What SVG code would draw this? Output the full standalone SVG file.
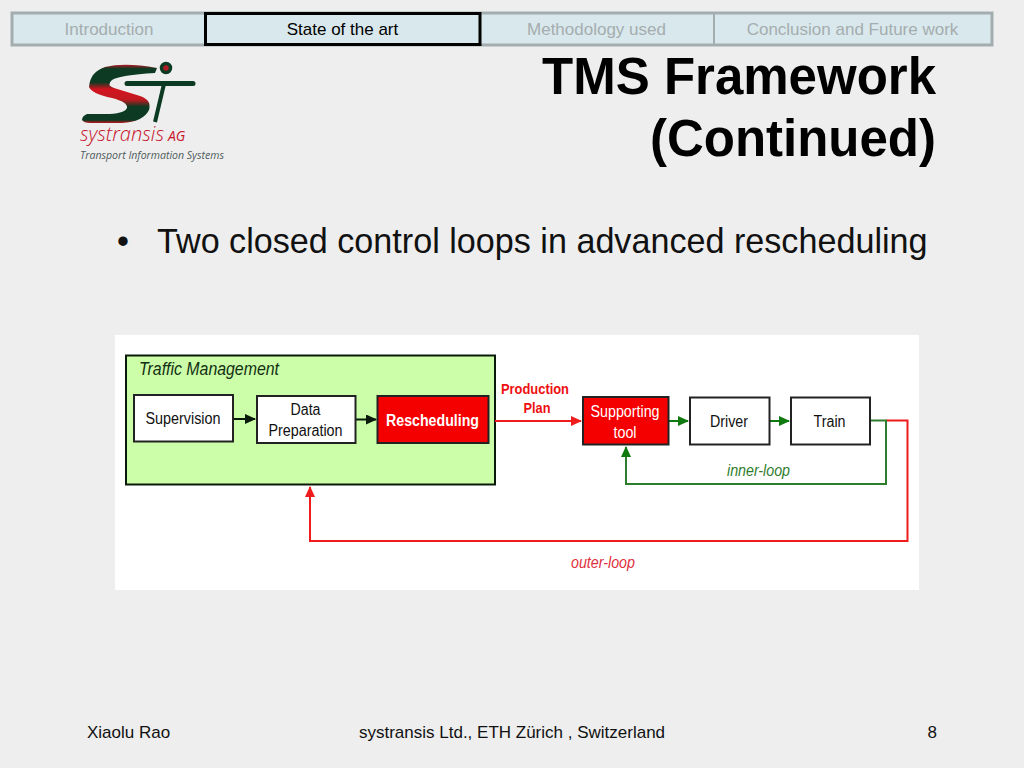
<svg xmlns="http://www.w3.org/2000/svg" width="1024" height="768" viewBox="0 0 1024 768">
<style>
text{font-family:"Liberation Sans",Arial,sans-serif}
.tab{fill:#d9e8ec;stroke:#a3adaf;stroke-width:3}
.tabt{font-size:17px;text-anchor:middle;fill:#a5adaf}
.box{fill:#fff;stroke:#222;stroke-width:2}
.red{fill:#f50000;stroke:#222;stroke-width:2}
.lbl{font-size:16px;text-anchor:middle;fill:#111}
.k{stroke:#0a1a0a;stroke-width:2;fill:none}
.r{stroke:#ee1c1c;stroke-width:2;fill:none}
.g{stroke:#2e7d2e;stroke-width:2;fill:none}
.foot{font-size:17px;fill:#111}
</style>
<defs>
<marker id="ak" markerWidth="11" markerHeight="10" refX="10" refY="5" orient="auto" markerUnits="userSpaceOnUse"><path d="M0 0L11 5L0 10Z" fill="#0a1a0a"/></marker>
<marker id="ar" markerWidth="11" markerHeight="10" refX="10" refY="5" orient="auto" markerUnits="userSpaceOnUse"><path d="M0 0L11 5L0 10Z" fill="#ee1c1c"/></marker>
<marker id="ag" markerWidth="11" markerHeight="10" refX="10" refY="5" orient="auto" markerUnits="userSpaceOnUse"><path d="M0 0L11 5L0 10Z" fill="#0f7a0f"/></marker>
<linearGradient id="s" x1="0" y1="0" x2="0" y2="1"><stop offset="0" stop-color="#b01a24"/><stop offset=".07" stop-color="#0c3a22"/><stop offset=".3" stop-color="#0c3a22"/><stop offset=".42" stop-color="#d3141f"/><stop offset=".6" stop-color="#c01a20"/><stop offset=".72" stop-color="#0c3a22"/><stop offset=".95" stop-color="#0c3a22"/><stop offset="1" stop-color="#c0141f"/></linearGradient>
</defs>
<rect width="1024" height="768" fill="#eee"/>
<g id="nav">
<rect class="tab" x="12" y="13" width="980" height="32"/>
<line x1="714" y1="13" x2="714" y2="45" stroke="#a3adaf" stroke-width="2"/>
<text class="tabt" x="109" y="35">Introduction</text>
<rect x="205.500" y="13.500" width="274.500" height="31" fill="#d9e8ec" stroke="#000" stroke-width="3"/>
<text class="tabt" x="342.500" y="35" style="fill:#000">State of the art</text>
<text class="tabt" x="596.500" y="35">Methodology used</text>
<text class="tabt" x="852.500" y="35">Conclusion and Future work</text>
</g>
<g id="logo">
<path d="M157,68Q125,62 105,67Q90,72 89,87Q92,94 112,98Q128,102 127,108Q124,114 105,114L87,114Q82,116 82,120Q84,123 90,123L122,123Q143,122 149,110Q152,100 140,96L114,88Q106,85 112,80Q120,75 155,73Z" fill="url(#s)"/>
<circle cx="166" cy="68" r="4.500" fill="#b01a24" stroke="#0c3a22" stroke-width="3.500"/>
<path d="M127,83.500H193" stroke="#0c3a22" stroke-width="5" stroke-linecap="round"/>
<path d="M164,84L155,122" stroke="#0c3a22" stroke-width="4"/>
<text x="80" y="141" font-size="20" font-style="italic" fill="#c8142c" style="font-family:'Open Sans',sans-serif" font-weight="300" textLength="84" lengthAdjust="spacingAndGlyphs">systransis</text>
<text x="168" y="141" font-size="14" font-style="italic" fill="#c8142c" style="font-family:'Open Sans',sans-serif">AG</text>
<text x="80" y="159" font-size="10.500" font-style="italic" fill="#4d5a5a" style="font-family:'Open Sans',sans-serif" textLength="144" lengthAdjust="spacingAndGlyphs">Transport Information Systems</text>
</g>
<g id="title" font-size="51" text-anchor="end" fill="#000">
<text x="936" y="94" font-weight="bold">TMS Framework</text>
<text x="936" y="156" font-weight="bold">(Continued)</text>
</g>
<g id="bullet" font-size="34.150" fill="#111">
<text x="117" y="253">•</text>
<text x="157" y="253">Two closed control loops in advanced rescheduling</text>
</g>
<rect id="panel" x="115" y="335" width="804" height="255" fill="#fff"/>
<g id="traffic-management">
<rect x="126" y="355.500" width="369" height="129" fill="#ccfda8" stroke="#0a1a0a" stroke-width="2"/>
<text x="139" y="375" font-size="18" font-style="italic" fill="#123012" textLength="140" lengthAdjust="spacingAndGlyphs">Traffic Management</text>
</g>
<g id="connectors">
<path class="k" d="M233 419H255" marker-end="url(#ak)"/>
<path class="k" d="M356 419.500H376" marker-end="url(#ak)"/>
<path class="r" d="M495 421H581" marker-end="url(#ar)"/>
<path class="g" style="stroke:#0f7a0f" d="M669 421H688" marker-end="url(#ag)"/>
<path class="g" style="stroke:#0f7a0f" d="M770 421H789" marker-end="url(#ag)"/>
<path class="r" d="M886 420.500H907.500V541H310V487" marker-end="url(#ar)"/>
<path class="g" d="M870 420.500H886V484H626V447" marker-end="url(#ag)"/>
</g>
<g id="supervision"><rect class="box" x="134" y="395" width="99" height="46.500"/><text class="lbl" x="183" y="424" textLength="75" lengthAdjust="spacingAndGlyphs">Supervision</text></g>
<g id="data-preparation"><rect class="box" x="257" y="396" width="98.500" height="47"/><text class="lbl" x="305.500" y="414.500" textLength="30" lengthAdjust="spacingAndGlyphs">Data</text><text class="lbl" x="305.500" y="436" textLength="74" lengthAdjust="spacingAndGlyphs">Preparation</text></g>
<g id="rescheduling"><rect class="red" x="377.500" y="396" width="111" height="47"/><text class="lbl" x="432.500" y="425.500" font-weight="bold" textLength="93" lengthAdjust="spacingAndGlyphs" style="fill:#fff">Rescheduling</text></g>
<g id="production-plan" font-size="14.500" fill="#ee1010" text-anchor="middle"><text x="535" y="394" font-weight="bold" textLength="68" lengthAdjust="spacingAndGlyphs">Production</text><text x="537" y="413" font-weight="bold" textLength="27" lengthAdjust="spacingAndGlyphs">Plan</text></g>
<g id="supporting-tool"><rect class="red" x="583" y="397" width="85.500" height="47.500"/><text class="lbl" x="625" y="417" textLength="69" lengthAdjust="spacingAndGlyphs" style="fill:#fff">Supporting</text><text class="lbl" x="625" y="438" textLength="23" lengthAdjust="spacingAndGlyphs" style="fill:#fff">tool</text></g>
<g id="driver"><rect class="box" x="690" y="397.500" width="79.500" height="47"/><text class="lbl" x="729" y="427" textLength="38" lengthAdjust="spacingAndGlyphs">Driver</text></g>
<g id="train"><rect class="box" x="791" y="397.500" width="79" height="47"/><text class="lbl" x="829.500" y="427" textLength="32" lengthAdjust="spacingAndGlyphs">Train</text></g>
<text id="inner-loop" x="758.500" y="476" font-size="16" font-style="italic" fill="#2e7d2e" text-anchor="middle" textLength="63" lengthAdjust="spacingAndGlyphs">inner-loop</text>
<text id="outer-loop" x="603" y="567.500" font-size="16" font-style="italic" fill="#e03040" text-anchor="middle" textLength="64" lengthAdjust="spacingAndGlyphs">outer-loop</text>
<g id="footer">
<text class="foot" x="87" y="738">Xiaolu Rao</text>
<text class="foot" x="512" y="738" text-anchor="middle">systransis Ltd., ETH Zürich , Switzerland</text>
<text class="foot" x="937" y="738" text-anchor="end">8</text>
</g>
</svg>
